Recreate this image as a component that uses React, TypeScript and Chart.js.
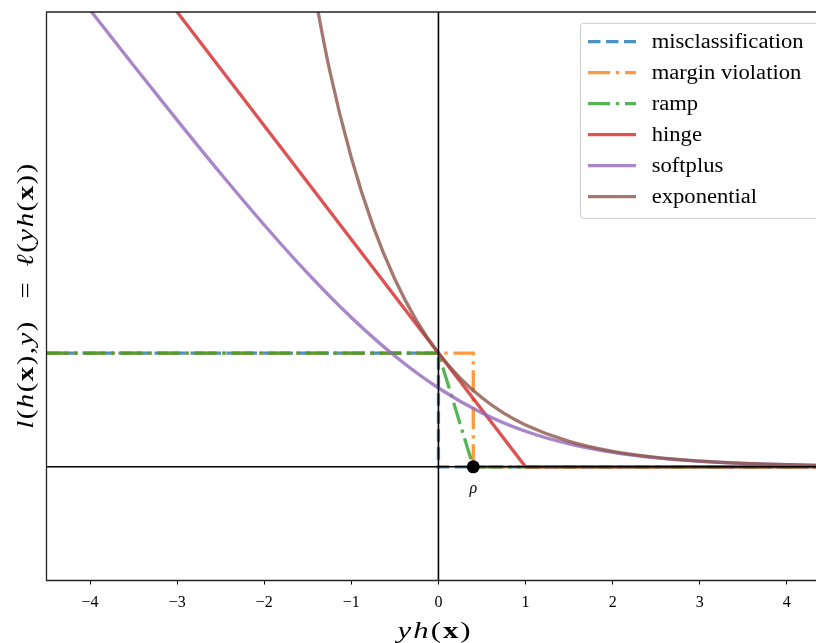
import React, { useEffect, useRef } from 'react';
import { Chart, registerables } from 'chart.js';
Chart.register(...registerables);

// ---- axis ranges / ticks ----
const X_MIN = -4.5;
const X_MAX = 4.335;
const Y_MIN = -1;
const Y_MAX = 4;
const xTickValues = [-4, -3, -2, -1, 0, 1, 2, 3, 4];

// ---- series ----
const seriesLabels = ['misclassification', 'margin violation', 'ramp', 'hinge', 'softplus', 'exponential'];

const misclassX = [-4.5, 0, 0, 4.5];
const misclassY = [1, 1, 0, 0];

const marginX = [-4.5, 0.4, 0.4, 4.5];
const marginY = [1, 1, 0, 0];

const rampX = [-4.5, 0, 0.4, 4.5];
const rampY = [1, 1, 0, 0];

const hingeX = [-4.5, 1, 4.5];
const hingeY = [5.5, 0, 0];

const softplusX = [-4.5, -4, -3.5, -3, -2.5, -2, -1.5, -1, -0.5, 0, 0.5, 1, 1.5, 2, 2.5, 3, 3.5, 4, 4.5];
const softplusY = [4.511, 4.018, 3.53, 3.049, 2.579, 2.127, 1.701, 1.313, 0.974, 0.693, 0.474, 0.313, 0.201, 0.127, 0.079, 0.049, 0.03, 0.018, 0.011];

const expX = [-1.5, -1.25, -1, -0.75, -0.5, -0.25, 0, 0.25, 0.5, 0.75, 1, 1.5, 2, 2.5, 3, 3.5, 4, 4.5];
const expY = [4.482, 3.49, 2.718, 2.117, 1.649, 1.284, 1, 0.779, 0.607, 0.472, 0.368, 0.223, 0.135, 0.082, 0.05, 0.03, 0.018, 0.011];

const rhoX = [0.4];
const rhoY = [0];
const rhoLabel = 'ρ';

const colors = [
  'rgba(31,119,180,0.8)',
  'rgba(255,127,14,0.8)',
  'rgba(44,160,44,0.8)',
  'rgba(214,39,40,0.8)',
  'rgba(148,103,189,0.8)',
  'rgba(140,86,75,0.8)',
];

const LW = 3.3;
const DASHED = [12.5, 5.5];
const DASHDOT = [22, 5.8, 3.4, 5.8];

const SERIF = '"Liberation Serif", "DejaVu Serif", serif';

const pts = (xs: number[], ys: number[]) => xs.map((x, i) => ({ x, y: ys[i] }));

type Seg = { t: string; s?: 'i' | 'b' | 'n' };

function segFont(s: string | undefined, size: number) {
  if (s === 'i') return `italic ${size}px ${SERIF}`;
  if (s === 'b') return `bold ${size}px ${SERIF}`;
  return `${size}px ${SERIF}`;
}

// draws mixed-style math-like text centred at origin, stretched to a target width
function drawSegs(ctx: CanvasRenderingContext2D, segs: Seg[], size: number, target: number, gap: number) {
  let w = 0;
  const ws: number[] = [];
  for (const sg of segs) {
    ctx.font = segFont(sg.s, size);
    const m = ctx.measureText(sg.t).width;
    ws.push(m);
    w += m;
  }
  const gaps = gap * (segs.length - 1);
  const k = (target - gaps) / w;
  let x = -target / 2;
  segs.forEach((sg, i) => {
    ctx.font = segFont(sg.s, size);
    ctx.save();
    ctx.translate(x, 0);
    ctx.scale(k, 1);
    ctx.fillText(sg.t, 0, 0);
    ctx.restore();
    x += ws[i] * k + gap;
  });
}

const xTitle: Seg[] = [
  { t: 'y', s: 'i' }, { t: 'h', s: 'i' }, { t: '(' }, { t: 'x', s: 'b' }, { t: ')' },
];
const yTitle: Seg[] = [
  { t: 'l', s: 'i' }, { t: '(' }, { t: 'h', s: 'i' }, { t: '(' }, { t: 'x', s: 'b' }, { t: ')' }, { t: ',' },
  { t: 'y', s: 'i' }, { t: ')' }, { t: '   =  ' }, { t: 'ℓ', s: 'i' }, { t: '(' }, { t: 'y', s: 'i' },
  { t: 'h', s: 'i' }, { t: '(' }, { t: 'x', s: 'b' }, { t: ')' }, { t: ')' },
];

const overlay = {
  id: 'overlay',
  afterDatasetsDraw(chart: any) {
    const { ctx, chartArea: ca, scales } = chart;
    const xs = scales.x, ys = scales.y;
    ctx.save();
    // zero lines
    ctx.strokeStyle = '#000';
    ctx.lineWidth = 1.6;
    const x0 = xs.getPixelForValue(0);
    const y0 = ys.getPixelForValue(0);
    ctx.beginPath();
    ctx.moveTo(x0, ca.top);
    ctx.lineTo(x0, ca.bottom);
    ctx.moveTo(ca.left, y0);
    ctx.lineTo(ca.right, y0);
    ctx.stroke();
    // spines (left, top, bottom)
    ctx.strokeStyle = '#222';
    ctx.lineWidth = 1.3;
    ctx.beginPath();
    ctx.moveTo(ca.right + 2, ca.top);
    ctx.lineTo(ca.left, ca.top);
    ctx.lineTo(ca.left, ca.bottom);
    ctx.lineTo(ca.right + 2, ca.bottom);
    ctx.stroke();
    ctx.restore();
  },
  afterDraw(chart: any) {
    const { ctx, chartArea: ca, scales } = chart;
    const xs = scales.x, ys = scales.y;
    ctx.save();
    // rho dot
    const px = xs.getPixelForValue(rhoX[0]);
    const py = ys.getPixelForValue(rhoY[0]);
    ctx.fillStyle = '#000';
    ctx.beginPath();
    ctx.arc(px, py, 6.5, 0, Math.PI * 2);
    ctx.fill();
    ctx.font = `italic 16px ${SERIF}`;
    ctx.textAlign = 'center';
    ctx.textBaseline = 'middle';
    ctx.fillText(rhoLabel, px, py + 22);

    // legend
    const lx = 580.5, ly = 23.3, lw = 260, lh = 195;
    ctx.fillStyle = 'rgba(255,255,255,0.85)';
    ctx.strokeStyle = '#cccccc';
    ctx.lineWidth = 1;
    ctx.beginPath();
    (ctx as any).roundRect(lx, ly, lw, lh, 3);
    ctx.fill();
    ctx.stroke();
    const dsets = chart.data.datasets.slice(0, 6);
    dsets.forEach((ds: any, i: number) => {
      const cy = 41.7 + 31 * i;
      ctx.strokeStyle = ds.borderColor;
      ctx.lineWidth = ds.borderWidth;
      ctx.setLineDash(ds.borderDash || []);
      ctx.lineDashOffset = 0;
      ctx.beginPath();
      ctx.moveTo(588, cy);
      ctx.lineTo(636, cy);
      ctx.stroke();
      ctx.setLineDash([]);
      ctx.fillStyle = '#000';
      ctx.font = `20px ${SERIF}`;
      ctx.textAlign = 'left';
      ctx.textBaseline = 'middle';
      ctx.save();
      ctx.translate(651.7, cy + 1);
      ctx.scale(1.13, 1);
      ctx.fillText(ds.label, 0, 0);
      ctx.restore();
    });

    // axis titles
    ctx.fillStyle = '#000';
    ctx.textAlign = 'left';
    ctx.textBaseline = 'alphabetic';
    ctx.save();
    ctx.translate((ca.left + xs.getPixelForValue(4.4)) / 2, 637.5);
    drawSegs(ctx, xTitle, 23, 73, 2);
    ctx.restore();
    ctx.save();
    ctx.translate(33, (ca.top + ca.bottom) / 2);
    ctx.rotate(-Math.PI / 2);
    drawSegs(ctx, yTitle, 24, 265, 1.5);
    ctx.restore();
    ctx.restore();
  },
};

export default function App() {
  const ref = useRef<HTMLCanvasElement | null>(null);
  useEffect(() => {
    if (!ref.current) return;
    const lineDs = (label: string, xs: number[], ys: number[], i: number, dash: number[], order: number, smooth = false) => ({
      type: 'line' as const,
      label,
      data: pts(xs, ys),
      borderColor: colors[i],
      backgroundColor: colors[i],
      borderWidth: LW,
      borderDash: dash,
      pointRadius: 0,
      fill: false,
      order,
      cubicInterpolationMode: smooth ? ('monotone' as const) : ('default' as const),
      tension: 0,
      borderCapStyle: 'butt' as const,
    });
    const chart = new Chart(ref.current, {
      type: 'line',
      data: {
        datasets: [
          lineDs(seriesLabels[0], misclassX, misclassY, 0, DASHED, 6),
          lineDs(seriesLabels[1], marginX, marginY, 1, DASHDOT, 5),
          lineDs(seriesLabels[2], rampX, rampY, 2, DASHDOT, 4),
          lineDs(seriesLabels[3], hingeX, hingeY, 3, [], 3),
          lineDs(seriesLabels[4], softplusX, softplusY, 4, [], 2, true),
          lineDs(seriesLabels[5], expX, expY, 5, [], 1, true),
        ] as any,
      },
      options: {
        animation: false,
        responsive: false,
        devicePixelRatio: 1,
        layout: { padding: { left: 0, right: 0, top: 12, bottom: 0 } },
        plugins: { legend: { display: false }, tooltip: { enabled: false } },
        scales: {
          x: {
            type: 'linear',
            min: X_MIN,
            max: X_MAX,
            afterBuildTicks: (s: any) => {
              s.ticks = xTickValues.map((v) => ({ value: v }));
            },
            afterFit: (s: any) => {
              s.height = 62.5;
            },
            grid: {
              display: true,
              drawOnChartArea: false,
              drawTicks: true,
              tickLength: 4,
              color: '#000',
              lineWidth: 1,
            },
            border: { display: false },
            ticks: {
              color: '#000',
              font: { family: SERIF, size: 16 },
              padding: 8.5,
              maxRotation: 0,
              autoSkip: false,
              callback: (v: any) => (Number(v) < 0 ? '\u2212' + Math.abs(Number(v)) : String(v)),
            },
          },
          y: {
            type: 'linear',
            min: Y_MIN,
            max: Y_MAX,
            afterFit: (s: any) => {
              s.width = 46.5;
            },
            grid: { display: false },
            border: { display: false },
            ticks: { display: false },
          },
        },
      },
      plugins: [overlay],
    });
    return () => chart.destroy();
  }, []);
  return (
    <div style={{ position: 'absolute', left: 0, top: 0, width: 816, height: 643, background: '#fff' }}>
      <canvas ref={ref} width={816} height={643} style={{ display: 'block' }} />
    </div>
  );
}
